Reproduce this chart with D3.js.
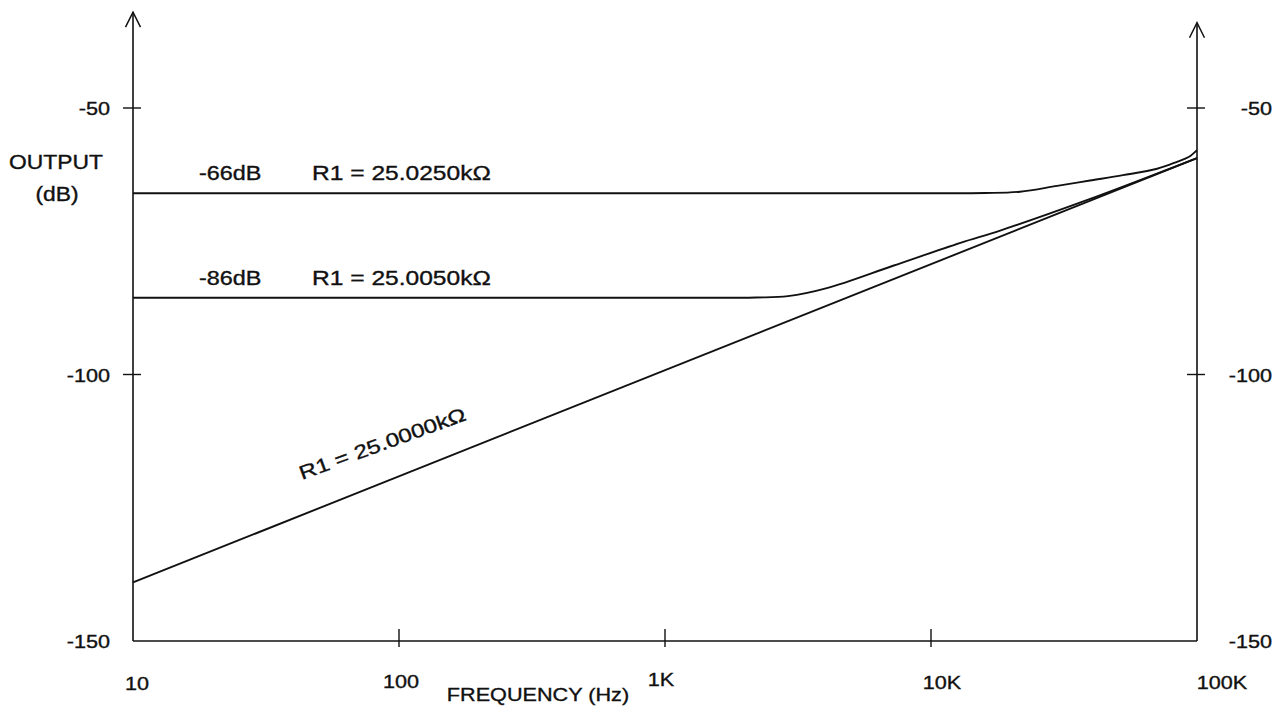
<!DOCTYPE html>
<html>
<head>
<meta charset="utf-8">
<script src="https://cdn.jsdelivr.net/npm/d3@7"></script>
<style>
  html, body { margin: 0; padding: 0; background: #fff; }
  svg { display: block; }
  text { font-family: "Liberation Sans", Arial, Helvetica, sans-serif; fill: #111; stroke: #111; stroke-width: 0.35; }
</style>
</head>
<body>
<div id="chart"></div>
<script>
// axis ticks
const freqTicks = [10, 100, 1000, 10000, 100000];
const freqLabels = ['10', '100', '1K', '10K', '100K'];
const dbTicks = [-50, -100, -150];
const dbLabels = ['-50', '-100', '-150'];

// R1 = 25.0250k (flat at -66dB)
const r25025Freq = [10, 1000, 10000, 16000, 21600, 29800, 39600, 52700, 70800, 84100, 93000, 100000];
const r25025Db = [-66, -66, -66, -65.95, -65.7, -64.6, -63.6, -62.6, -61.4, -60.1, -59.2, -57.9];

// R1 = 25.0050k (flat at -86dB)
const r25005Freq = [10, 1000, 2200, 2900, 4060, 7200, 12900, 18200, 38500, 100000];
const r25005Db = [-85.6, -85.6, -85.55, -85.3, -83.8, -79.6, -75.3, -73.0, -67.3, -59.4];

// R1 = 25.0000k (straight line)
const r25000Freq = [10, 100000];
const r25000Db = [-139, -59.4];

const width = 1286, height = 709;

const x = d3.scaleLog().domain([10, 100000]).range([133, 1197]);
const y = d3.scaleLinear().domain([-150, -50]).range([641, 108]);

const svg = d3.select('#chart')
  .append('svg')
  .attr('width', width)
  .attr('height', height);

// scanned lettering is a bit wider than Arial
function label(px, py, str, size, anchor, rot, sx) {
  svg.append('text')
    .attr('transform', `translate(${px},${py}) rotate(${rot || 0}) scale(${sx || 1.17},1)`)
    .attr('font-size', size)
    .attr('text-anchor', anchor || 'start')
    .text(str);
}

// vertical axes with open arrow heads
function vAxis(xv, topDb) {
  const px = x(xv), top = y(topDb);
  svg.append('line')
    .attr('x1', px).attr('x2', px)
    .attr('y1', y(-150)).attr('y2', top)
    .attr('stroke', '#111').attr('stroke-width', 1.6);
  svg.append('path')
    .attr('d', `M${px - 7.5},${top + 15} L${px},${top} L${px + 7.5},${top + 15}`)
    .attr('fill', 'none').attr('stroke', '#111').attr('stroke-width', 1.5);
  dbTicks.filter(d => d !== -150).forEach(d => {
    svg.append('line')
      .attr('x1', px - 10).attr('x2', px + 8)
      .attr('y1', y(d)).attr('y2', y(d))
      .attr('stroke', '#111').attr('stroke-width', 1.4);
  });
}
vAxis(10, -32);
vAxis(100000, -34);

// bottom axis
svg.append('line')
  .attr('x1', x(10)).attr('x2', x(100000))
  .attr('y1', y(-150)).attr('y2', y(-150))
  .attr('stroke', '#111').attr('stroke-width', 1.6);
freqTicks.slice(1, -1).forEach(f => {
  svg.append('line')
    .attr('x1', x(f)).attr('x2', x(f))
    .attr('y1', y(-150) - 12).attr('y2', y(-150) + 6)
    .attr('stroke', '#111').attr('stroke-width', 1.4);
});

// tick labels
dbTicks.forEach((d, i) => {
  label(110, y(d) + 7, dbLabels[i], 18.5, 'end');
  label(1272, y(d) + 7, dbLabels[i], 18.5, 'end');
});
const freqDx = [4, 2, -4, 11, 25];
const freqDy = [690, 688, 686, 689, 689];
freqTicks.forEach((f, i) => {
  label(x(f) + freqDx[i], freqDy[i], freqLabels[i], 18.5, 'middle');
});

// axis titles
label(538, 701, 'FREQUENCY (Hz)', 18.5, 'middle');
label(56, 169, 'OUTPUT', 19.5, 'middle');
label(57, 201, '(dB)', 19.5, 'middle');

// curves
const line = d3.line()
  .x(d => x(d[0]))
  .y(d => y(d[1]))
  .curve(d3.curveCatmullRom.alpha(0.5));

[[r25025Freq, r25025Db], [r25005Freq, r25005Db], [r25000Freq, r25000Db]].forEach(s => {
  svg.append('path')
    .datum(d3.zip(s[0], s[1]))
    .attr('d', line)
    .attr('fill', 'none')
    .attr('stroke', '#111')
    .attr('stroke-width', 1.9);
});

// series labels
label(199, 180, '-66dB', 19.5, 'start', 0, 1.2);
label(312, 180, 'R1 = 25.0250kΩ', 19.5, 'start', 0, 1.26);
label(199, 285, '-86dB', 19.5, 'start', 0, 1.2);
label(312, 285, 'R1 = 25.0050kΩ', 19.5, 'start', 0, 1.26);
label(302, 480, 'R1 = 25.0000kΩ', 19.5, 'start', -20, 1.24);
</script>
</body>
</html>
